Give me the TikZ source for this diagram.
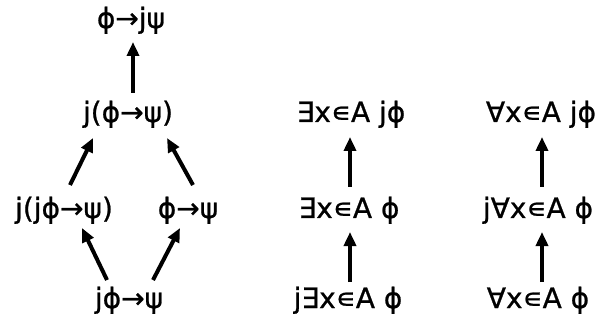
\documentclass[tikz,border=0pt]{standalone}
\usepackage{fontspec}
\setmainfont[FakeBold=0.8]{DejaVu Sans}
\usetikzlibrary{arrows.meta,calc}
\begin{document}
\begin{tikzpicture}[x=1pt,y=-1pt,
  lbl/.style={inner sep=0pt,anchor=base,font=\fontsize{28}{30}\selectfont},
  arr/.style={line width=4pt,-{Triangle[length=14pt,width=12pt]}}]
\useasboundingbox (0,0) rectangle (599,320);
\node[lbl] (t) at (131,28) {ϕ→jψ};
\node[lbl] (m) at (128,122) {j(ϕ→ψ)};
\node[lbl] (l) at (64,218) {j(jϕ→ψ)};
\node[lbl] (r) at (188,218) {ϕ→ψ};
\node[lbl] (b) at (129,308) {jϕ→ψ};
\node[lbl] (e1) at (351,122) {∃x∊A jϕ};
\node[lbl] (e2) at (349,218) {∃x∊A ϕ};
\node[lbl] (e3) at (348,308) {j∃x∊A ϕ};
\node[lbl] (a1) at (541,122) {∀x∊A jϕ};
\node[lbl] (a2) at (538,218) {j∀x∊A ϕ};
\node[lbl] (a3) at (538,308) {∀x∊A ϕ};
\draw[arr] ($(m.base)+(5,-29)$) -- ($(t.base)+(2,14)$);
\draw[arr] ($(l.base)+(6,-33)$) -- ($(m.base)+(-35,16)$);
\draw[arr] ($(r.base)+(5,-33)$) -- ($(m.base)+(39,16)$);
\draw[arr] ($(b.base)+(-22,-28)$) -- ($(l.base)+(18,10)$);
\draw[arr] ($(b.base)+(24,-28)$) -- ($(r.base)+(-8,10)$);
\draw[arr] ($(e2.base)+(1,-31)$) -- ($(e1.base)+(-1,15)$);
\draw[arr] ($(e3.base)+(2,-26)$) -- ($(e2.base)+(1,14)$);
\draw[arr] ($(a2.base)+(4,-31)$) -- ($(a1.base)+(1,15)$);
\draw[arr] ($(a3.base)+(4,-26)$) -- ($(a2.base)+(4,14)$);
\end{tikzpicture}
\end{document}
